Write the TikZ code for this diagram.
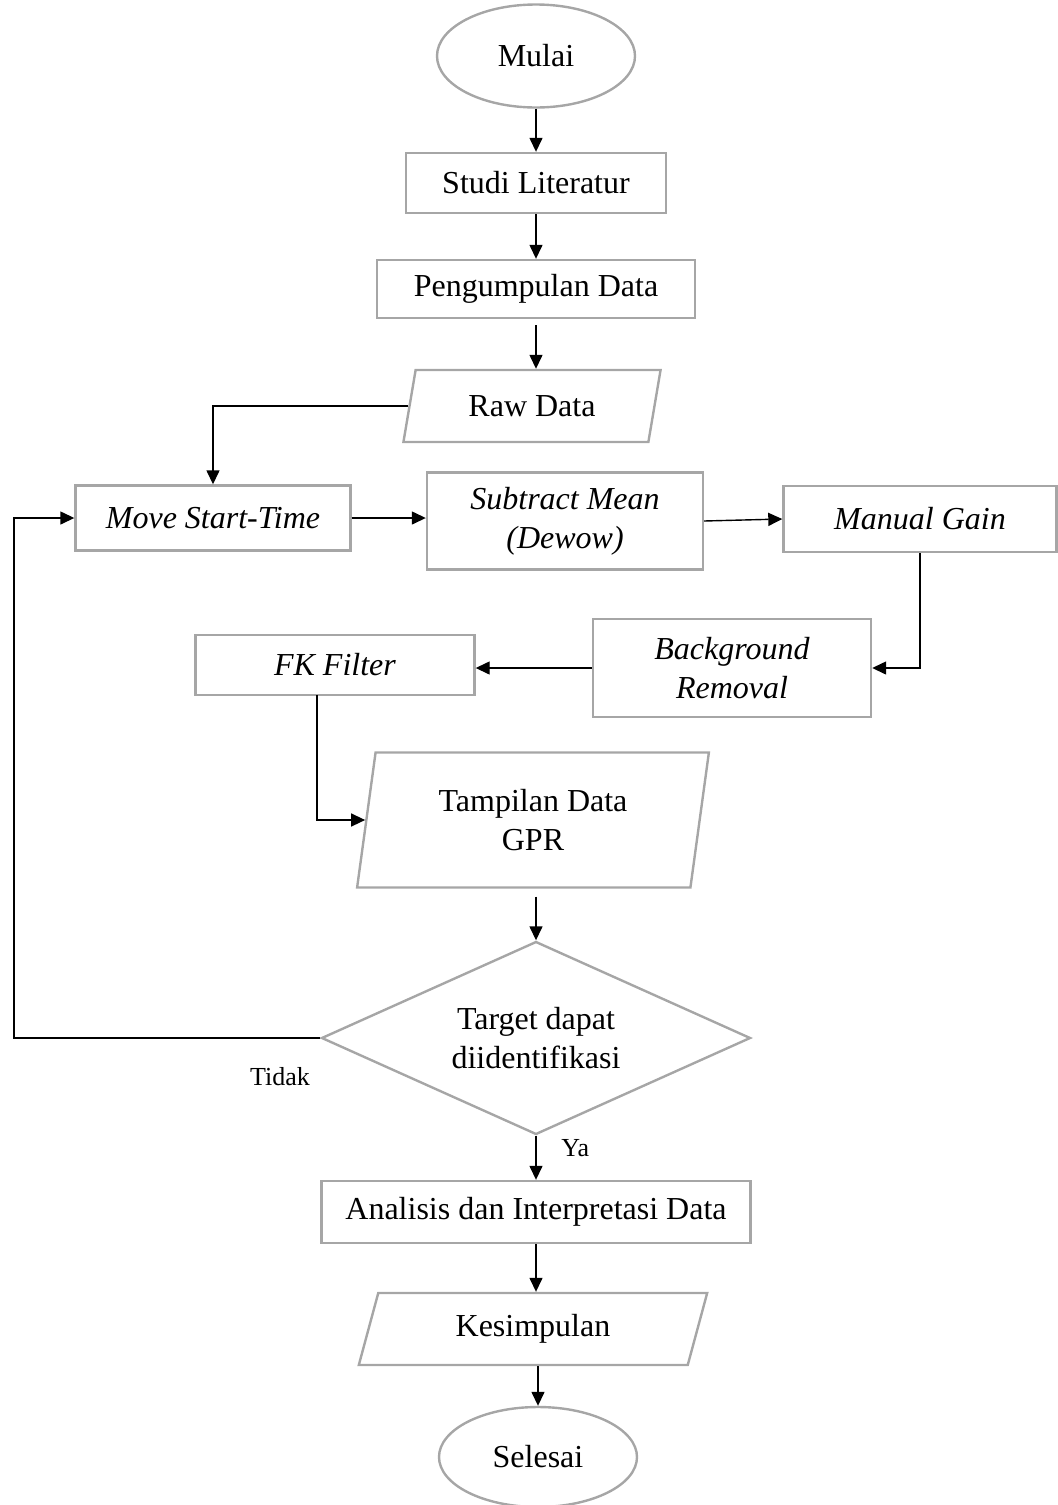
\documentclass[tikz,border=0pt]{standalone}
\usepackage{fontspec}
\setmainfont{Liberation Serif}
\usetikzlibrary{shapes.geometric, arrows.meta}

\begin{document}
\begin{tikzpicture}[x=0.5pt, y=-0.5pt, ->, >={Triangle[length=7pt, width=6.5pt]}, line width=0.7pt,
  font=\fontsize{16}{19.5}\selectfont,
  proses/.style={rectangle, draw=black!35, line width=1.2pt, align=center},
  data/.style={trapezium, trapezium left angle=78, trapezium right angle=102, trapezium stretches=true, draw=black!35, line width=1.2pt, align=center},
  terminal/.style={ellipse, draw=black!35, line width=1.2pt},
  keputusan/.style={diamond, aspect=2.2, inner sep=0pt, draw=black!35, line width=1.2pt, align=center},
  ket/.style={font=\fontsize{13}{15}\selectfont}]
  \useasboundingbox (0,0) rectangle (1057,1505);

  \node[terminal, minimum width=99pt, minimum height=51.5pt] (mulai) at (536,56) {Mulai};
  \node[proses, minimum width=130pt, minimum height=30pt] (studi) at (536,183) {Studi Literatur};
  \node[proses, minimum width=159pt, minimum height=29pt] (kumpul) at (536,289) {Pengumpulan Data};
  \node[data, minimum width=129.5pt, minimum height=36pt] (raw) at (532,406) {Raw Data};

  \node[proses, minimum width=137.5pt, minimum height=32.5pt] (move) at (213,518) {\textit{Move Start-Time}};
  \node[proses, minimum width=138pt, minimum height=48.5pt] (subtract) at (565,521) {\textit{Subtract Mean}\\\textit{(Dewow)}};
  \node[proses, minimum width=136.5pt, minimum height=33pt] (gain) at (920,519) {\textit{Manual Gain}};
  \node[proses, minimum width=139pt, minimum height=49pt] (background) at (732,668) {\textit{Background}\\\textit{Removal}};
  \node[proses, minimum width=139.5pt, minimum height=30pt] (fk) at (335,665) {\textit{FK Filter}};

  \node[data, trapezium left angle=81, trapezium right angle=99, minimum width=176pt, minimum height=67.5pt] (tampil) at (533,820) {Tampilan Data\\GPR};
  \node[keputusan, minimum width=214.5pt, minimum height=96.5pt] (target) at (536,1038) {Target dapat\\diidentifikasi};
  \node[proses, minimum width=214.5pt, minimum height=31pt] (analisis) at (536,1212) {Analisis dan Interpretasi Data};
  \node[data, trapezium left angle=76, trapezium right angle=104, minimum width=175.5pt, minimum height=36pt] (simpul) at (533,1329) {Kesimpulan};
  \node[terminal, minimum width=99pt, minimum height=50pt] (selesai) at (538,1457) {Selesai};

  \coordinate (balik) at (14,1038);
  \coordinate (turun) at (317,695);
  \node[ket] (tidak) at (280,1077) {Tidak};

  \draw (mulai) -- (studi);
  \draw (studi) -- (kumpul);
  \draw[shorten <=3pt] (kumpul) -- (kumpul.south |- raw.north);
  \draw (raw.west) -| (move.north);
  \draw (move.east) -- (move.east -| subtract.west);
  \draw (subtract.east) -- (gain.west);
  \draw (gain.south) |- (background.east);
  \draw (background.west) -- (background.west -| fk.east);
  \draw (turun) |- (tampil.west);
  \draw[shorten <=4pt] (tampil.south -| target.north) -- (target.north);
  \draw (target.west) -- (balik) |- (move.west);
  \draw (target.south) -- node[ket, right, xshift=9pt, yshift=5pt] {Ya} (analisis.north);
  \draw (analisis) -- (analisis.south |- simpul.north);
  \draw (simpul.south -| selesai.north) -- (selesai.north);
\end{tikzpicture}
\end{document}
